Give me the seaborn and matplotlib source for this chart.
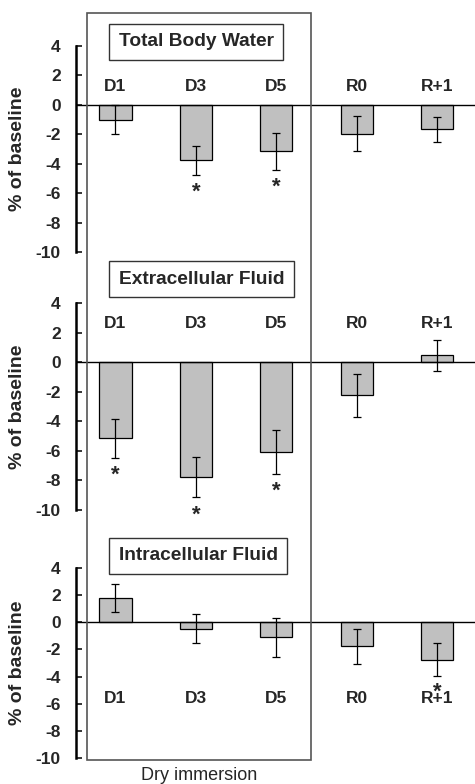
import matplotlib
matplotlib.use("Agg")
import matplotlib.pyplot as plt
import seaborn as sns
import numpy as np
from matplotlib.patches import Rectangle

# data
days = ["D1", "D3", "D5", "R0", "R+1"]

tbw_mean = [-1.0, -3.77, -3.15, -1.96, -1.67]
tbw_err = [1.0, 1.0, 1.25, 1.2, 0.87]
tbw_sig = [False, True, True, False, False]

ecf_mean = [-5.15, -7.77, -6.06, -2.23, 0.45]
ecf_err = [1.33, 1.37, 1.5, 1.46, 1.05]
ecf_sig = [True, True, True, False, False]

icf_mean = [1.8, -0.47, -1.1, -1.78, -2.76]
icf_err = [1.05, 1.05, 1.45, 1.3, 1.2]
icf_sig = [False, False, False, False, True]

panels = [
    ("Total Body Water", tbw_mean, tbw_err, tbw_sig, 4.27, 1.25),
    ("Extracellular Fluid", ecf_mean, ecf_err, ecf_sig, 5.6, 2.6),
    ("Intracellular Fluid", icf_mean, icf_err, icf_sig, 4.9, -5.6),
]

sns.set_style("white")
plt.rcParams['font.family'] = ['Liberation Sans', 'DejaVu Sans']

fig = plt.figure(figsize=(4.75, 7.84), dpi=100)
# axes boxes (left, bottom, width, height) in figure fraction
boxes = [
    [0.16, 0.6786, 0.84, 0.2628],
    [0.16, 0.3495, 0.84, 0.2640],
    [0.16, 0.0332, 0.84, 0.2423],
]

for (title, mean, err, sig, title_y, lab_y), box in zip(panels, boxes):
    ax = fig.add_axes(box)
    ax.patch.set_alpha(0)
    sns.barplot(x=days, y=mean, ax=ax, color="#C0C0C0", edgecolor="black",
                linewidth=0.9, width=0.4, errorbar=None, saturation=1)
    ax.errorbar(np.arange(len(days)), mean, yerr=err, fmt="none",
                ecolor="black", elinewidth=0.9, capsize=3, capthick=0.9)
    ax.axhline(0, color="black", linewidth=1)
    ax.set_xlim(-0.49, 4.47)
    ax.set_ylim(-10, 4)
    ax.set_yticks(range(-10, 5, 2))
    ax.set_yticklabels([str(v) for v in range(-10, 5, 2)],
                       fontsize=12.5, fontweight="bold")
    ax.tick_params(axis="y", direction="in", length=4, width=1.3, pad=11, left=True)
    ax.set_xticks([])
    ax.set_xlabel("")
    ax.set_ylabel("% of baseline", fontsize=14, fontweight="bold", labelpad=7)
    for s in ["top", "right", "bottom"]:
        ax.spines[s].set_visible(False)
    ax.spines["left"].set_linewidth(1.8)
    ax.spines["left"].set_color("black")

    for i, d in enumerate(days):
        ax.text(i, lab_y, d, ha="center", va="center", fontsize=12.5,
                fontweight="bold", clip_on=False)
        if sig[i]:
            ax.text(i, mean[i] - err[i] - 1.2, "*", ha="center", va="center",
                    fontsize=16, fontweight="bold", clip_on=False)

    ax.text(0.04, title_y, title, ha="left", va="center", fontsize=13.8,
            fontweight="bold", clip_on=False,
            bbox=dict(boxstyle="square,pad=0.5", facecolor="white",
                      edgecolor="#333333", linewidth=1))

# dry immersion frame
fig.patches.append(Rectangle((87 / 475, 1 - 760 / 784), (311 - 87) / 475,
                             (760 - 13) / 784, transform=fig.transFigure,
                             fill=False, edgecolor="#555555", linewidth=1.2))
fig.text(199 / 475, 1 - 775 / 784, "Dry immersion", ha="center", va="center",
         fontsize=13)

fig.savefig("out.png", dpi=100)
